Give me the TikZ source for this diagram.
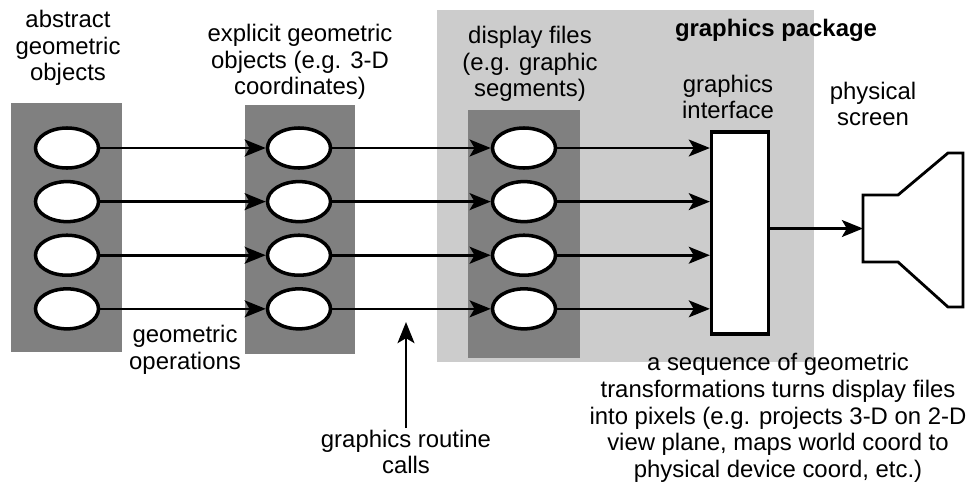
\documentclass[tikz,border=0pt]{standalone}
\usepackage{fontspec}
\setmainfont{Liberation Sans}
\usetikzlibrary{positioning, arrows.meta, shapes.geometric}

\begin{document}
\begin{tikzpicture}[x=0.025cm, y=-0.025cm, node distance=1.34cm,
            font=\fontsize{17}{19}\selectfont,
            obj/.style={ellipse, draw, line width=2.5pt, fill=white, minimum width=1.575cm, minimum height=1cm, inner sep=0pt},
            layer/.style={fill=black!50},
            pkgarea/.style={fill=black!20},
            caption/.style={align=center, inner sep=1pt},
            arrow/.style={-{Stealth[length=15pt, width=12pt, inset=3.5pt]}, line width=1.9pt}]

        \useasboundingbox (0,0) rectangle (979,488);

        \fill[pkgarea] (437,10) rectangle (814,362);
        \fill[layer] (11,103) rectangle (122,352);
        \fill[layer] (245,105) rectangle (355,354);
        \fill[layer] (468,110) rectangle (580,358);

        \node[obj] (abs1) at (67,148) {};
        \node[obj, below of=abs1] (abs2) {};
        \node[obj, below of=abs2] (abs3) {};
        \node[obj, below of=abs3] (abs4) {};

        \node[obj] (expl1) at (299,148) {};
        \node[obj, below of=expl1] (expl2) {};
        \node[obj, below of=expl2] (expl3) {};
        \node[obj, below of=expl3] (expl4) {};

        \node[obj] (disp1) at (524,148) {};
        \node[obj, below of=disp1] (disp2) {};
        \node[obj, below of=disp2] (disp3) {};
        \node[obj, below of=disp3] (disp4) {};

        \node[draw, line width=2.3pt, fill=white, minimum width=1.425cm, minimum height=5.05cm] (iface) at (740,233) {};

        \draw[line width=2pt] (863,195) -- (898,195) -- (948,153) -- (963,153) -- (963,307) -- (948,307) -- (898,262) -- (863,262) -- cycle;
        \coordinate (scr) at (863,228.5);

        \node[caption] (absLabel) at (68,48) {abstract\\geometric\\objects};
        \node[caption] (explLabel) at (300,62) {explicit geometric\\objects (e.g. 3-D\\coordinates)};
        \node[caption] (dispLabel) at (530,64) {display files\\(e.g. graphic\\segments)};
        \node[caption, font=\fontsize{17}{19}\selectfont\bfseries] (pkgLabel) at (776,30) {graphics package};
        \node[caption] (ifaceLabel) at (728,97) {graphics\\interface};
        \node[caption] (scrLabel) at (873,104) {physical\\screen};
        \node[caption] (opsLabel) at (185,350) {geometric\\operations};
        \node[caption] (callsLabel) at (406,452) {graphics routine\\calls};
        \node[caption] (xformLabel) at (778,418) {a sequence of geometric\\transformations turns display files\\into pixels (e.g. projects 3-D on 2-D\\view plane, maps world coord to\\physical device coord, etc.)};
        \coordinate (callsTip) at (406,322);

        \draw[arrow] (abs1) -- (expl1);
        \draw[arrow] (abs2) -- (expl2);
        \draw[arrow] (abs3) -- (expl3);
        \draw[arrow] (abs4) -- (expl4);
        \draw[arrow] (expl1) -- (disp1);
        \draw[arrow] (expl2) -- (disp2);
        \draw[arrow] (expl3) -- (disp3);
        \draw[arrow] (expl4) -- (disp4);
        \draw[arrow] (disp1) -- (disp1 -| iface.west);
        \draw[arrow] (disp2) -- (disp2 -| iface.west);
        \draw[arrow] (disp3) -- (disp3 -| iface.west);
        \draw[arrow] (disp4) -- (disp4 -| iface.west);
        \draw[arrow] (iface.east |- scr) -- (scr);
        \draw[arrow] (callsLabel) -- (callsTip);
    \end{tikzpicture}
\end{document}
